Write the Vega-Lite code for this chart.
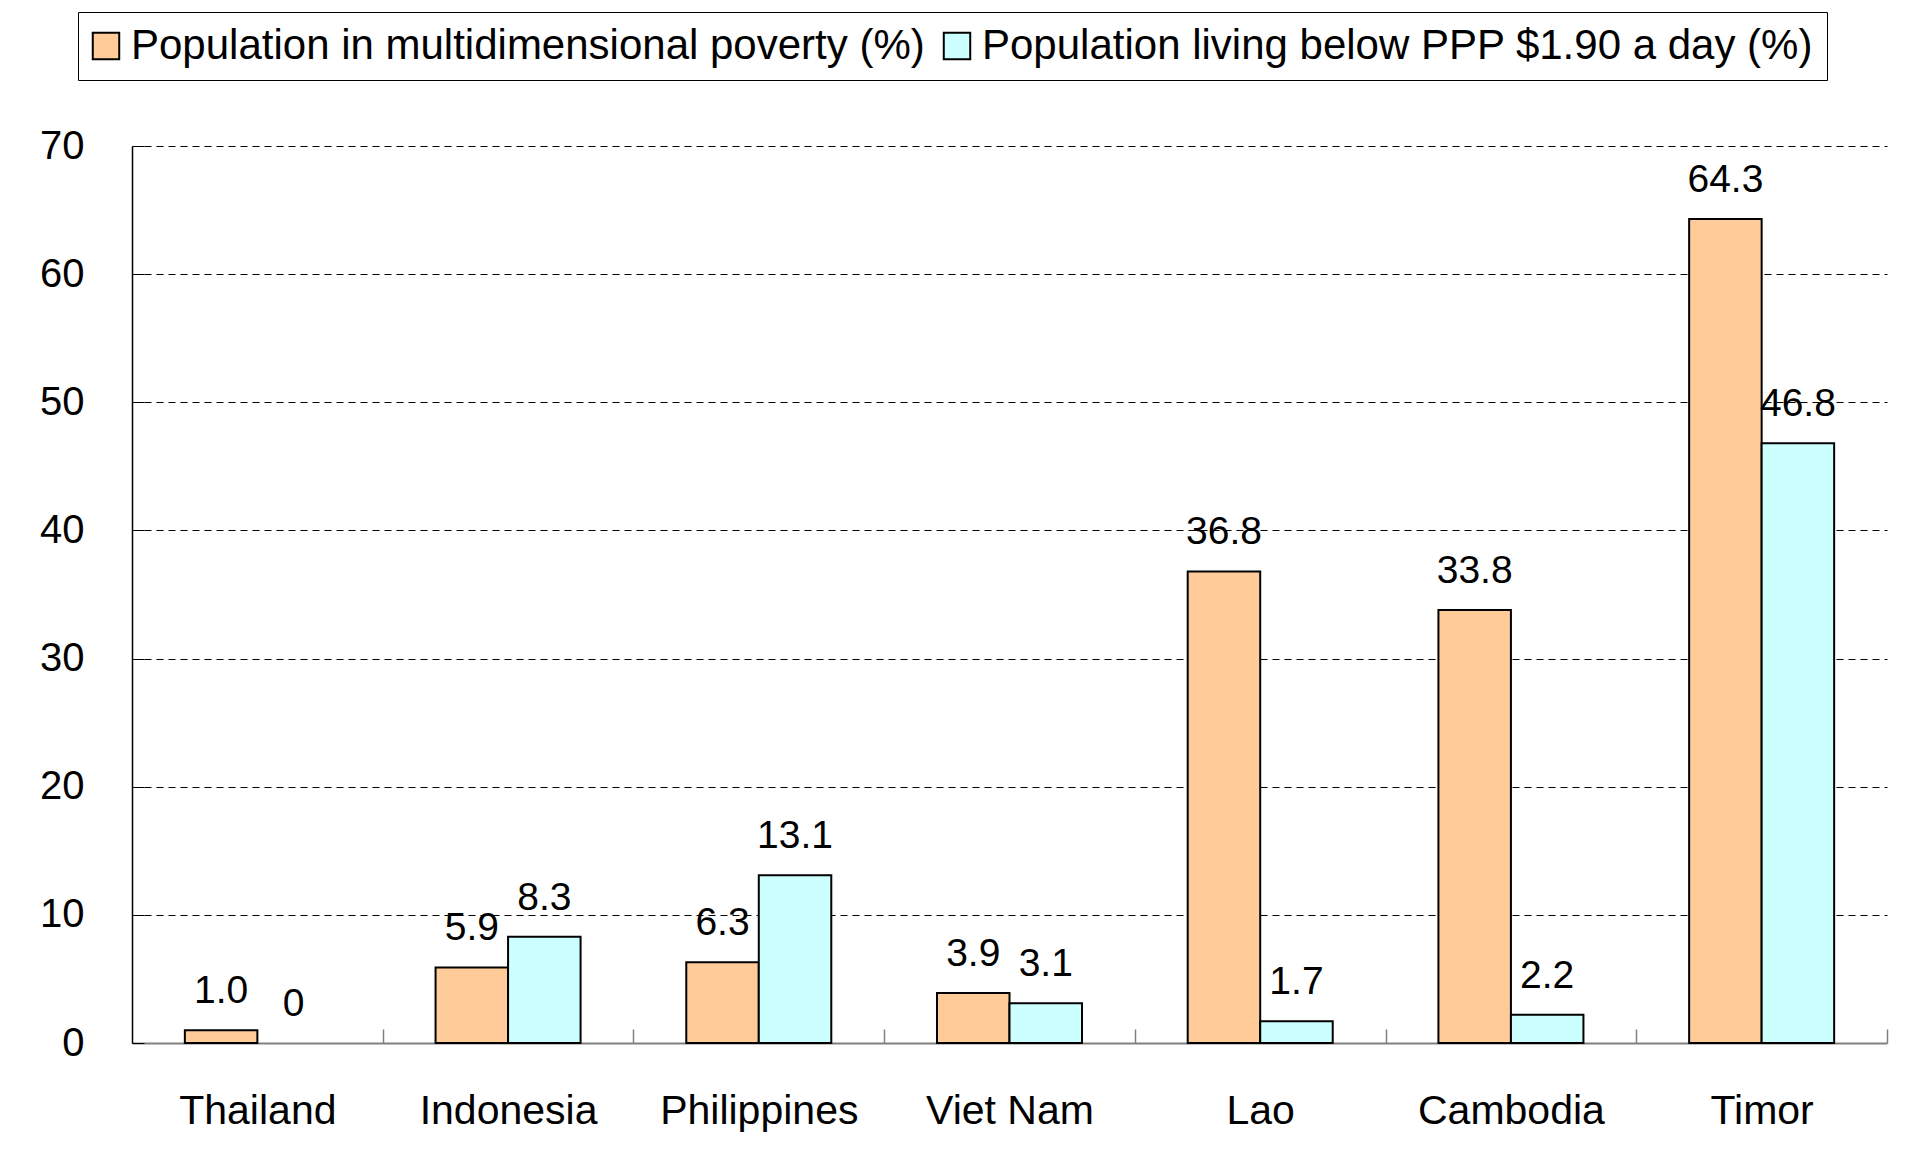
{
  "$schema": "https://vega.github.io/schema/vega-lite/v6.json",
  "width": 1755,
  "height": 897,
  "autosize": {"type": "none"},
  "padding": {"left": 132, "top": 146, "right": 21, "bottom": 126},
  "background": "white",
  "config": {"view": {"stroke": null}, "font": "Liberation Sans"},
  "data": {
    "values": [
      {"country": "Thailand", "series": "Population in multidimensional poverty (%)", "value": 1.0, "label": "1.0"},
      {"country": "Thailand", "series": "Population living below PPP $1.90 a day (%)", "value": 0, "label": "0"},
      {"country": "Indonesia", "series": "Population in multidimensional poverty (%)", "value": 5.9, "label": "5.9"},
      {"country": "Indonesia", "series": "Population living below PPP $1.90 a day (%)", "value": 8.3, "label": "8.3"},
      {"country": "Philippines", "series": "Population in multidimensional poverty (%)", "value": 6.3, "label": "6.3"},
      {"country": "Philippines", "series": "Population living below PPP $1.90 a day (%)", "value": 13.1, "label": "13.1"},
      {"country": "Viet Nam", "series": "Population in multidimensional poverty (%)", "value": 3.9, "label": "3.9"},
      {"country": "Viet Nam", "series": "Population living below PPP $1.90 a day (%)", "value": 3.1, "label": "3.1"},
      {"country": "Lao", "series": "Population in multidimensional poverty (%)", "value": 36.8, "label": "36.8"},
      {"country": "Lao", "series": "Population living below PPP $1.90 a day (%)", "value": 1.7, "label": "1.7"},
      {"country": "Cambodia", "series": "Population in multidimensional poverty (%)", "value": 33.8, "label": "33.8"},
      {"country": "Cambodia", "series": "Population living below PPP $1.90 a day (%)", "value": 2.2, "label": "2.2"},
      {"country": "Timor", "series": "Population in multidimensional poverty (%)", "value": 64.3, "label": "64.3"},
      {"country": "Timor", "series": "Population living below PPP $1.90 a day (%)", "value": 46.8, "label": "46.8"}
    ]
  },
  "encoding": {
    "x": {
      "field": "country",
      "type": "nominal",
      "sort": ["Thailand", "Indonesia", "Philippines", "Viet Nam", "Lao", "Cambodia", "Timor"],
      "scale": {"paddingInner": 0.4216, "paddingOuter": 0.2108},
      "axis": {
        "title": null,
        "labelAngle": 0,
        "labelFontSize": 41,
        "labelColor": "black",
        "labelBaseline": "alphabetic",
        "labelPadding": 94,
        "labelLimit": 1000,
        "tickOffset": 125.357,
        "labelOffset": -125.357,
        "tickSize": -14,
        "tickColor": "#808080",
        "tickWidth": 1.5,
        "domainColor": "#808080",
        "domainWidth": 2,
        "grid": false
      }
    },
    "xOffset": {
      "field": "series",
      "sort": ["Population in multidimensional poverty (%)", "Population living below PPP $1.90 a day (%)"],
      "scale": {"paddingInner": 0, "paddingOuter": 0}
    },
    "y": {
      "field": "value",
      "type": "quantitative",
      "scale": {"domain": [0, 70], "nice": false},
      "axis": {
        "title": null,
        "values": [0, 10, 20, 30, 40, 50, 60, 70],
        "labelFontSize": 40,
        "labelColor": "black",
        "labelPadding": 60,
        "tickSize": -12,
        "tickColor": "black",
        "domainColor": "black",
        "domainWidth": 1.5,
        "grid": true,
        "gridColor": "black",
        "gridWidth": 1,
        "gridDash": [7, 5],
        "gridOpacity": {"condition": {"test": "datum.value === 0", "value": 0}, "value": 1}
      }
    }
  },
  "layer": [
    {
      "mark": {"type": "bar", "stroke": "black", "strokeWidth": 2},
      "encoding": {
        "color": {
          "field": "series",
          "type": "nominal",
          "sort": ["Population in multidimensional poverty (%)", "Population living below PPP $1.90 a day (%)"],
          "scale": {"range": ["#FFCC99", "#CCFFFF"]},
          "legend": {
            "title": null,
            "orient": "none",
            "legendX": -54,
            "legendY": -134,
            "direction": "horizontal",
            "padding": 13,
            "strokeColor": "black",
            "fillColor": "white",
            "symbolType": "square",
            "symbolSize": 700,
            "symbolStrokeColor": "black",
            "symbolStrokeWidth": 2,
            "symbolOpacity": 1,
            "symbolOffset": -6,
            "labelFontSize": 42,
            "labelColor": "black",
            "labelOffset": 4,
            "columnPadding": 14,
            "labelLimit": 2000
          }
        },
        "strokeOpacity": {"condition": {"test": "datum.value === 0", "value": 0}, "value": 1}
      }
    },
    {
      "mark": {"type": "text", "fontSize": 39, "baseline": "alphabetic", "dy": -27, "color": "black"},
      "encoding": {"text": {"field": "label"}}
    }
  ]
}
